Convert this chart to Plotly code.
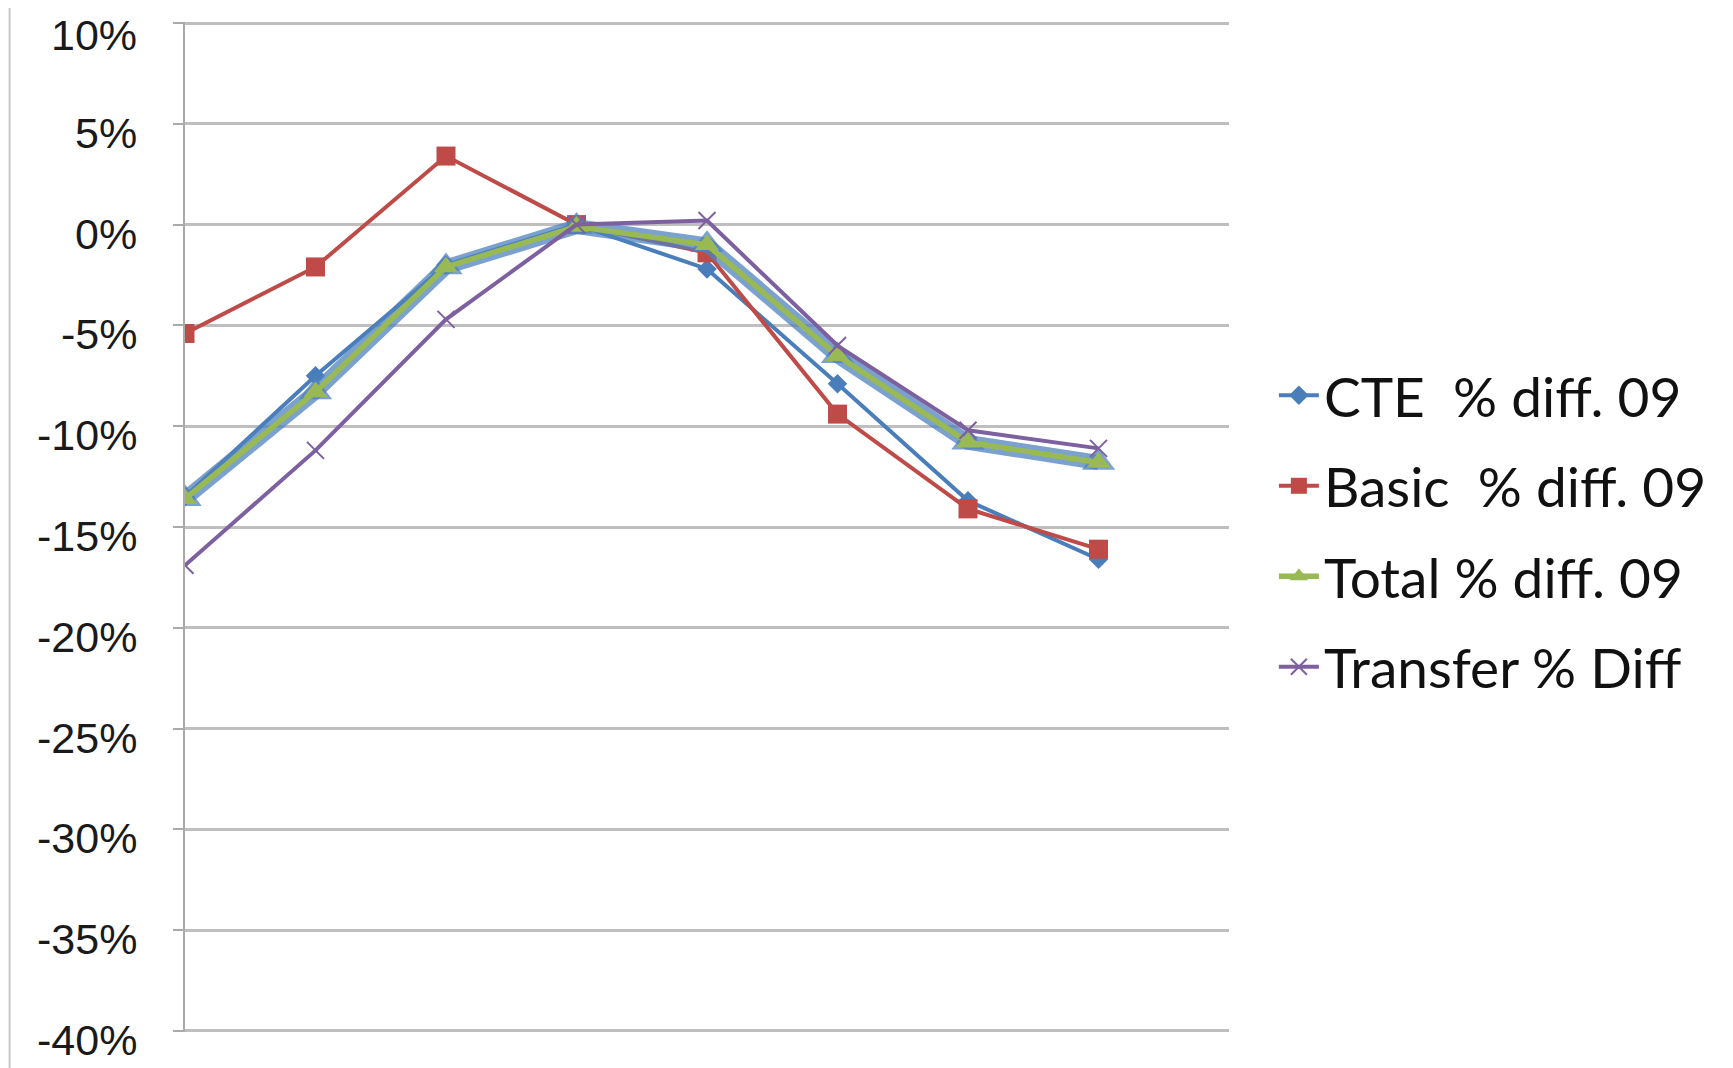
import plotly.graph_objects as go

positions = [0, 1, 2, 3, 4, 5, 6, 7]
cte = [-13.5, -7.5, -2.0, 0.0, -2.2, -7.9, -13.7, -16.6]
basic = [-5.4, -2.1, 3.4, 0.0, -1.4, -9.4, -14.1, -16.1]
total = [-13.6, -8.3, -2.1, -0.1, -1.0, -6.5, -10.8, -11.8]
transfer = [-16.9, -11.2, -4.7, 0.0, 0.2, -6.0, -10.2, -11.1]
names = ["CTE  % diff. 09", "Basic  % diff. 09", "Total % diff. 09", "Transfer % Diff"]
tick_vals = [10, 5, 0, -5, -10, -15, -20, -25, -30, -35, -40]
tick_text = ["10%", "5%", "0%", "-5%", "-10%", "-15%", "-20%", "-25%", "-30%", "-35%", "-40%"]

fig = go.Figure()
fig.add_trace(go.Scatter(x=positions, y=cte, name=names[0], mode="lines+markers", legendgroup="a",
                         line=dict(color="#4A7EBB", width=4),
                         marker=dict(symbol="diamond", size=15, color="#4A7EBB")))
fig.add_trace(go.Scatter(x=positions, y=basic, name=names[1], mode="lines+markers", legendgroup="b",
                         line=dict(color="#BE4B48", width=4),
                         marker=dict(symbol="square", size=19, color="#BE4B48")))
fig.add_trace(go.Scatter(x=positions, y=total, mode="lines+markers", showlegend=False, hoverinfo="skip",
                         legendgroup="c",
                         line=dict(color="rgba(79,129,189,0.75)", width=15),
                         marker=dict(symbol="triangle-up", size=29, color="rgba(79,129,189,0.75)")))
fig.add_trace(go.Scatter(x=positions, y=total, name=names[2], mode="lines+markers", legendgroup="c",
                         line=dict(color="#98B954", width=5.5),
                         marker=dict(symbol="triangle-up", size=21, color="#98B954")))
fig.add_trace(go.Scatter(x=positions, y=transfer, name=names[3], mode="lines+markers", legendgroup="d",
                         line=dict(color="#7D60A0", width=4),
                         marker=dict(symbol="x-thin", size=17, line=dict(color="#7D60A0", width=2))))

# y tick labels as text placed on the axis values (slightly below each gridline, as in the reference)
for v, t in zip(tick_vals, tick_text):
    fig.add_annotation(xref="paper", x=0, yref="y", y=v, text=t, showarrow=False,
                       xanchor="right", yanchor="middle", xshift=-47,
                       yshift=-12 if v == max(tick_vals) else -9, borderpad=0,
                       font=dict(size=43, family="Liberation Sans, Arial, sans-serif", color="#1a1a1a"))

fig.update_layout(
    width=1733, height=1068,
    margin=dict(l=177, r=512, t=14, b=44, autoexpand=False),
    paper_bgcolor="white", plot_bgcolor="white",
    font=dict(family="Liberation Sans, Arial, sans-serif", color="#1a1a1a"),
    showlegend=True,
    legend=dict(x=1.043, y=0.496, xanchor="left", yanchor="middle",
                font=dict(family="Lato, Liberation Sans, sans-serif", size=55, color="#111111"),
                bgcolor="rgba(0,0,0,0)", itemwidth=40, tracegroupgap=16, traceorder="grouped"),
    shapes=[dict(type="line", xref="paper", yref="paper", x0=-0.168, x1=-0.168, y0=-0.05, y1=1.03,
                 line=dict(color="#c8c8c8", width=2))],
)
fig.update_xaxes(range=[0, 8], showticklabels=False, showgrid=False, zeroline=False,
                 showline=False, ticks="", automargin=False)
fig.update_yaxes(range=[-40.05, 10.05], tickvals=tick_vals, showticklabels=False,
                 showgrid=True, gridcolor="#bfbfbf", gridwidth=2.5, zeroline=False,
                 showline=True, linecolor="#aaaaaa", linewidth=2,
                 ticks="outside", ticklen=10, tickcolor="#aaaaaa", tickwidth=2,
                 automargin=False)

fig.write_html("out.html")
